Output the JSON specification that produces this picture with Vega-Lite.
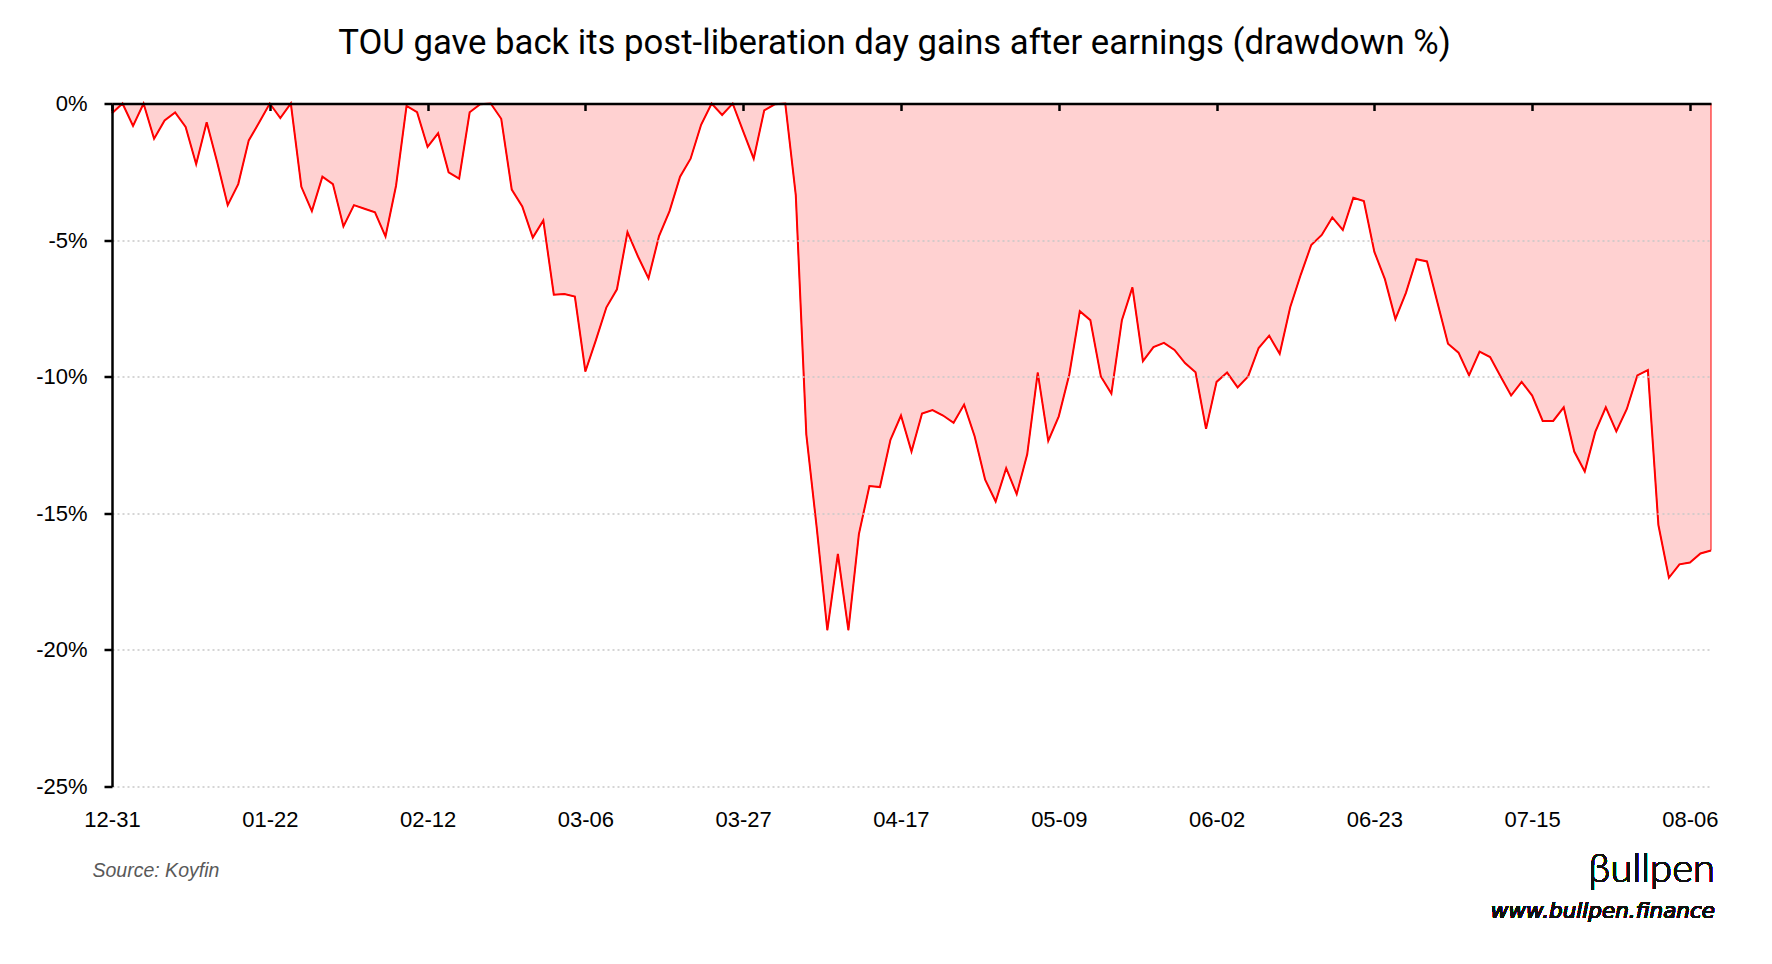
{
  "$schema": "https://vega.github.io/schema/vega-lite/v6.json",
  "width": 1599,
  "height": 683,
  "autosize": {"type": "none"},
  "padding": {"left": 112, "top": 103.5, "right": 61, "bottom": 177.5},
  "background": "white",
  "title": {
    "text": "TOU gave back its post-liberation day gains after earnings (drawdown %)",
    "font": "Roboto",
    "fontSize": 34.7,
    "fontWeight": "normal",
    "color": "#000000",
    "anchor": "middle",
    "dx": -17,
    "offset": 4,
    "baseline": "alphabetic"
  },
  "config": {"view": {"stroke": null}},
  "data": {
    "values": [
      {"date": "12-31", "dd": -0.36}, {"date": "01-02", "dd": 0}, {"date": "01-03", "dd": -0.82}, {"date": "01-06", "dd": 0},
      {"date": "01-07", "dd": -1.29}, {"date": "01-08", "dd": -0.62}, {"date": "01-09", "dd": -0.33}, {"date": "01-10", "dd": -0.86},
      {"date": "01-13", "dd": -2.22}, {"date": "01-14", "dd": -0.69}, {"date": "01-15", "dd": -2.15}, {"date": "01-16", "dd": -3.72},
      {"date": "01-17", "dd": -2.95}, {"date": "01-20", "dd": -1.35}, {"date": "01-21", "dd": -0.69}, {"date": "01-22", "dd": 0},
      {"date": "01-23", "dd": -0.53}, {"date": "01-24", "dd": 0}, {"date": "01-27", "dd": -3.05}, {"date": "01-28", "dd": -3.94},
      {"date": "01-29", "dd": -2.68}, {"date": "01-30", "dd": -2.95}, {"date": "01-31", "dd": -4.5}, {"date": "02-03", "dd": -3.72},
      {"date": "02-04", "dd": -3.85}, {"date": "02-05", "dd": -3.98}, {"date": "02-06", "dd": -4.87}, {"date": "02-07", "dd": -3.01},
      {"date": "02-10", "dd": -0.09}, {"date": "02-11", "dd": -0.32}, {"date": "02-12", "dd": -1.59}, {"date": "02-13", "dd": -1.09},
      {"date": "02-14", "dd": -2.52}, {"date": "02-18", "dd": -2.75}, {"date": "02-19", "dd": -0.32}, {"date": "02-20", "dd": -0.03},
      {"date": "02-21", "dd": 0}, {"date": "02-24", "dd": -0.56}, {"date": "02-25", "dd": -3.15}, {"date": "02-26", "dd": -3.77},
      {"date": "02-27", "dd": -4.91}, {"date": "02-28", "dd": -4.28}, {"date": "03-03", "dd": -7.0}, {"date": "03-04", "dd": -6.97},
      {"date": "03-05", "dd": -7.07}, {"date": "03-06", "dd": -9.81}, {"date": "03-07", "dd": -8.66}, {"date": "03-10", "dd": -7.46},
      {"date": "03-11", "dd": -6.8}, {"date": "03-12", "dd": -4.71}, {"date": "03-13", "dd": -5.6}, {"date": "03-14", "dd": -6.4},
      {"date": "03-17", "dd": -4.85}, {"date": "03-18", "dd": -3.94}, {"date": "03-19", "dd": -2.68}, {"date": "03-20", "dd": -2.02},
      {"date": "03-21", "dd": -0.78}, {"date": "03-24", "dd": 0}, {"date": "03-25", "dd": -0.42}, {"date": "03-26", "dd": 0},
      {"date": "03-27", "dd": -1.02}, {"date": "03-28", "dd": -2.02}, {"date": "03-31", "dd": -0.25}, {"date": "04-01", "dd": -0.03},
      {"date": "04-02", "dd": 0}, {"date": "04-03", "dd": -3.35}, {"date": "04-04", "dd": -12.11}, {"date": "04-07", "dd": -15.56},
      {"date": "04-08", "dd": -19.28}, {"date": "04-09", "dd": -16.49}, {"date": "04-10", "dd": -19.28}, {"date": "04-11", "dd": -15.76},
      {"date": "04-14", "dd": -14.0}, {"date": "04-15", "dd": -14.04}, {"date": "04-16", "dd": -12.31}, {"date": "04-17", "dd": -11.42},
      {"date": "04-21", "dd": -12.74}, {"date": "04-22", "dd": -11.35}, {"date": "04-23", "dd": -11.22}, {"date": "04-24", "dd": -11.42},
      {"date": "04-25", "dd": -11.69}, {"date": "04-28", "dd": -11.02}, {"date": "04-29", "dd": -12.18}, {"date": "04-30", "dd": -13.77},
      {"date": "05-01", "dd": -14.57}, {"date": "05-02", "dd": -13.35}, {"date": "05-05", "dd": -14.3}, {"date": "05-06", "dd": -12.84},
      {"date": "05-07", "dd": -9.85}, {"date": "05-08", "dd": -12.35}, {"date": "05-09", "dd": -11.45}, {"date": "05-12", "dd": -9.92},
      {"date": "05-13", "dd": -7.6}, {"date": "05-14", "dd": -7.93}, {"date": "05-15", "dd": -9.99}, {"date": "05-16", "dd": -10.62},
      {"date": "05-20", "dd": -7.93}, {"date": "05-21", "dd": -6.73}, {"date": "05-22", "dd": -9.43}, {"date": "05-23", "dd": -8.92},
      {"date": "05-26", "dd": -8.76}, {"date": "05-27", "dd": -9.02}, {"date": "05-28", "dd": -9.5}, {"date": "05-29", "dd": -9.84},
      {"date": "05-30", "dd": -11.91}, {"date": "06-02", "dd": -10.19}, {"date": "06-03", "dd": -9.85}, {"date": "06-04", "dd": -10.39},
      {"date": "06-05", "dd": -9.99}, {"date": "06-06", "dd": -8.95}, {"date": "06-09", "dd": -8.5}, {"date": "06-10", "dd": -9.16},
      {"date": "06-11", "dd": -7.46}, {"date": "06-12", "dd": -6.27}, {"date": "06-13", "dd": -5.18}, {"date": "06-16", "dd": -4.81},
      {"date": "06-17", "dd": -4.17}, {"date": "06-18", "dd": -4.63}, {"date": "06-19", "dd": -3.45}, {"date": "06-20", "dd": -3.57},
      {"date": "06-23", "dd": -5.43}, {"date": "06-24", "dd": -6.43}, {"date": "06-25", "dd": -7.89}, {"date": "06-26", "dd": -6.93},
      {"date": "06-27", "dd": -5.7}, {"date": "06-30", "dd": -5.78}, {"date": "07-02", "dd": -7.29}, {"date": "07-03", "dd": -8.79},
      {"date": "07-04", "dd": -9.12}, {"date": "07-07", "dd": -9.95}, {"date": "07-08", "dd": -9.08}, {"date": "07-09", "dd": -9.28},
      {"date": "07-10", "dd": -9.99}, {"date": "07-11", "dd": -10.69}, {"date": "07-14", "dd": -10.19}, {"date": "07-15", "dd": -10.69},
      {"date": "07-16", "dd": -11.62}, {"date": "07-17", "dd": -11.62}, {"date": "07-18", "dd": -11.12}, {"date": "07-21", "dd": -12.74},
      {"date": "07-22", "dd": -13.47}, {"date": "07-23", "dd": -12.02}, {"date": "07-24", "dd": -11.12}, {"date": "07-25", "dd": -12.0},
      {"date": "07-28", "dd": -11.18}, {"date": "07-29", "dd": -9.95}, {"date": "07-30", "dd": -9.76}, {"date": "07-31", "dd": -15.43},
      {"date": "08-01", "dd": -17.36}, {"date": "08-05", "dd": -16.87}, {"date": "08-06", "dd": -16.8}, {"date": "08-07", "dd": -16.47},
      {"date": "08-08", "dd": -16.36}
    ]
  },
  "layer": [
    {
      "mark": {"type": "area", "color": "#FF0000", "fillOpacity": 0.18, "stroke": "#FF0000", "strokeWidth": 1},
      "encoding": {
        "x": {
          "field": "date", "type": "ordinal", "sort": null,
          "scale": {"type": "point", "padding": 0},
          "axis": {
            "orient": "bottom",
            "values": ["12-31", "01-22", "02-12", "03-06", "03-27", "04-17", "05-09", "06-02", "06-23", "07-15", "08-06"],
            "labelAngle": 0, "domain": false, "ticks": false, "tickSize": 0, "labelPadding": 23,
            "labelFont": "Liberation Sans", "labelFontSize": 22, "labelColor": "#000000", "grid": false,
            "title": "Source: Koyfin", "titleFont": "Liberation Sans", "titleFontStyle": "italic", "titleFontWeight": "normal",
            "titleFontSize": 19.5, "titleColor": "#595959", "titleAnchor": "start", "titleAlign": "left",
            "titleX": -20, "titleY": 89.5, "titleBaseline": "alphabetic"
          }
        },
        "y": {
          "field": "dd", "type": "quantitative",
          "scale": {"domain": [-25, 0], "nice": false, "zero": false},
          "axis": {
            "values": [0, -5, -10, -15, -20, -25],
            "labelExpr": "datum.value + '%'",
            "grid": true, "gridColor": "#C8C8C8", "gridDash": [2, 3], "gridWidth": 1.5,
            "domainColor": "#000000", "domainWidth": 2.5, "tickColor": "#000000", "tickWidth": 2.5, "tickSize": 8,
            "labelPadding": 17, "labelFont": "Liberation Sans", "labelFontSize": 22, "labelColor": "#000000",
            "title": null, "zindex": 1
          }
        }
      }
    },
    {
      "mark": {"type": "line", "color": "#FF0000", "strokeWidth": 2},
      "encoding": {
        "x": {
          "field": "date", "type": "ordinal", "sort": null,
          "axis": {
            "orient": "top",
            "values": ["12-31", "01-22", "02-12", "03-06", "03-27", "04-17", "05-09", "06-02", "06-23", "07-15", "08-06"],
            "labels": false, "domainColor": "#000000", "domainWidth": 2.5, "tickColor": "#000000", "tickWidth": 2.5,
            "tickSize": -7, "grid": false, "title": null, "zindex": 1
          }
        },
        "y": {"field": "dd", "type": "quantitative"}
      }
    },
    {
      "mark": {"type": "text", "text": "βullpen", "font": "Lato", "fontWeight": 300, "fontSize": 40, "align": "right", "baseline": "alphabetic", "dx": 4, "dy": 95, "color": "#111111"},
      "encoding": {
        "x": {"datum": "08-08", "type": "ordinal", "axis": null},
        "y": {"datum": -25, "type": "quantitative"}
      }
    },
    {
      "mark": {"type": "text", "text": "www.bullpen.finance", "font": "DejaVu Sans", "fontSize": 21.5, "fontStyle": "italic", "fontWeight": "normal", "align": "right", "baseline": "alphabetic", "dx": 4, "dy": 131.5, "color": "#111111"},
      "encoding": {
        "x": {"datum": "08-08", "type": "ordinal", "axis": null},
        "y": {"datum": -25, "type": "quantitative"}
      }
    }
  ],
  "resolve": {"axis": {"x": "independent"}}
}
